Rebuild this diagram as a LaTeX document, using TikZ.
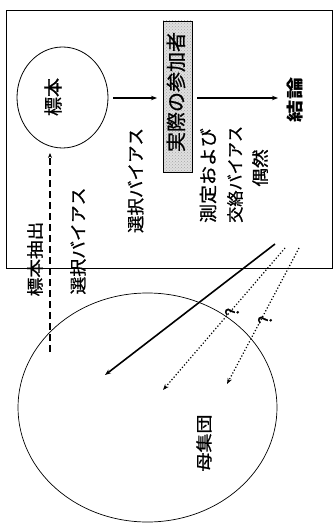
\documentclass[tikz,border=0pt]{standalone}
\usepackage{fontspec}
\usepackage{graphicx}
\setmainfont{Noto Sans CJK JP}
\newfontfamily\jpheavy{Noto Sans CJK JP}[FakeBold=0.8]
\usetikzlibrary{arrows.meta,shapes.geometric,patterns}
\newcommand{\vtxt}[3]{\rotatebox{90}{\jpheavy\fontsize{#1}{#1}\selectfont\scalebox{#2}[1]{#3}}}
\begin{document}
\begin{tikzpicture}[x=1pt,y=1pt,
  lbl/.style={inner sep=0pt},
  arr/.style={-{Stealth[length=6pt,width=4.5pt]}, line width=1.1pt},
  dotarr/.style={-{Stealth[length=6pt,width=4.5pt]}, line width=1.2pt, dotted},
  frame/.style={draw, line width=0.9pt},
  participants/.style={draw, line width=0.7pt, preaction={fill=gray!25}, pattern=crosshatch dots, pattern color=gray!70, minimum width=29pt, minimum height=151pt, inner sep=0pt}
]
\useasboundingbox (0,0) rectangle (336,-526);
% frame
\node[frame, minimum width=326pt, minimum height=258pt, inner sep=0pt] (box) at (169,-139) {};
% sample circle
\node[draw, ellipse, line width=0.8pt, minimum width=91pt, minimum height=101pt, inner sep=0pt] (sample) at (62.5,-97.5) {};
\node[lbl] (samplelbl) at (53,-97) {\vtxt{19}{1.0}{標本}};
% participants
\node[participants] (part) at (177.5,-96.5) {};
\node[lbl] (partlbl) at (176,-92) {\vtxt{20}{1.0}{実際の参加者}};
% conclusion
\node[lbl] (concl) at (295,-100) {\rotatebox{90}{\bfseries\fontsize{17}{17}\selectfont\scalebox{1.3}[1]{結論}}};
% biases
\node[lbl] (selbias) at (135.5,-180.5) {\vtxt{17.5}{1.0}{選択バイアス}};
\node[lbl, anchor=south] (meas1) at (208,-223) {\vtxt{18}{1.05}{測定および}};
\node[lbl, anchor=south] (meas2) at (235,-223) {\vtxt{17}{0.95}{交絡バイアス}};
\node[lbl] (chance) at (260,-168) {\vtxt{17}{1.1}{偶然}};
% left labels
\node[lbl] (sampling) at (35,-259) {\vtxt{17}{1.1}{標本抽出}};
\node[lbl] (selbias2) at (78,-241) {\vtxt{17}{1.05}{選択バイアス}};
% population
\node[draw, ellipse, line width=0.7pt, minimum width=259pt, minimum height=229pt, inner sep=0pt] (pop) at (147.5,-407.5) {};
\node[lbl] (poplbl) at (204,-443) {\vtxt{16.5}{1.15}{母集団}};
% question marks
\node[lbl] (q1) at (232,-312) {\vtxt{18}{1.0}{?}};
\node[lbl] (q2) at (265,-320) {\vtxt{18}{1.0}{?}};
% arrows
\coordinate (a1s) at (108,-98);
\coordinate (a1e) at (163,-98);
\coordinate (a2s) at (192,-98);
\coordinate (a2e) at (284,-98);
\draw[arr, shorten <=5pt, shorten >=6pt] (a1s) -- (a1e);
\draw[arr, shorten <=5pt, shorten >=6pt] (a2s) -- (a2e);
% dashed sampling arrow
\coordinate (ds) at (50,-352);
\coordinate (de) at (50,-153);
\draw[-{Stealth[length=5pt,width=4pt]}, line width=1.1pt, dash pattern=on 7pt off 4pt] (ds) -- (de);
% inference arrows
\coordinate (s1) at (275,-244);
\coordinate (e1) at (105,-375);
\coordinate (s2) at (285,-248);
\coordinate (e2) at (163,-390);
\coordinate (s3) at (299,-248);
\coordinate (e3) at (227,-384);
\draw[arr, line width=1.6pt] (s1) -- (e1);
\draw[dotarr] (s2) -- (e2);
\draw[dotarr] (s3) -- (e3);
\end{tikzpicture}
\end{document}
